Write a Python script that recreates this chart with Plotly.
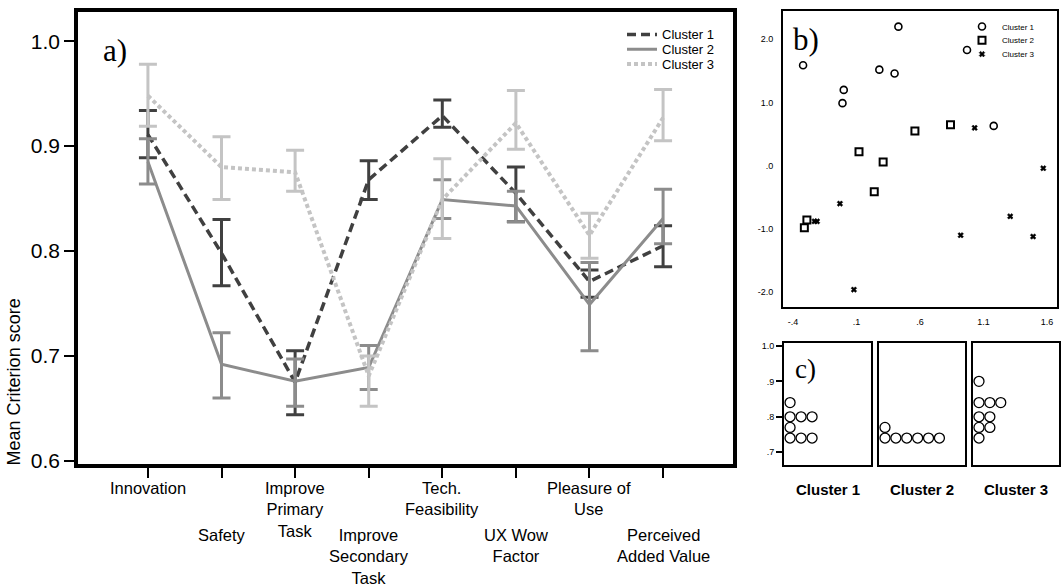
import plotly.graph_objects as go

W, H = 1061, 587

# ---------------- data ----------------
categories = ["Innovation", "Safety", "Improve<br>Primary<br>Task", "Improve<br>Secondary<br>Task",
              "Tech.<br>Feasibility", "UX Wow<br>Factor", "Pleasure of<br>Use", "Perceived<br>Added Value"]
cluster_names = ["Cluster 1", "Cluster 2", "Cluster 3"]

c1_mean = [0.911, 0.798, 0.675, 0.868, 0.929, 0.855, 0.771, 0.805]
c1_low = [0.889, 0.767, 0.644, 0.849, 0.918, 0.828, 0.756, 0.785]
c1_high = [0.934, 0.830, 0.705, 0.886, 0.944, 0.880, 0.782, 0.824]

c2_mean = [0.885, 0.692, 0.676, 0.689, 0.849, 0.843, 0.749, 0.831]
c2_low = [0.864, 0.660, 0.652, 0.668, 0.831, 0.828, 0.705, 0.807]
c2_high = [0.907, 0.722, 0.697, 0.710, 0.868, 0.857, 0.789, 0.859]

c3_mean = [0.948, 0.880, 0.875, 0.681, 0.849, 0.922, 0.815, 0.927]
c3_low = [0.919, 0.849, 0.857, 0.652, 0.812, 0.897, 0.793, 0.905]
c3_high = [0.978, 0.909, 0.896, 0.700, 0.888, 0.953, 0.836, 0.954]

main_yticks = [0.6, 0.7, 0.8, 0.9, 1.0]
main_yticktext = ["0.6", "0.7", "0.8", "0.9", "1.0"]

# panel b scatter
b1_x = [-0.32, 0.00, -0.01, 0.28, 0.40, 0.43, 0.97, 1.18]
b1_y = [1.59, 1.20, 0.99, 1.52, 1.46, 2.20, 1.83, 0.63]
b2_x = [-0.31, -0.29, 0.12, 0.31, 0.24, 0.56, 0.84]
b2_y = [-0.98, -0.86, 0.22, 0.06, -0.41, 0.55, 0.65]
b3_x = [-0.23, -0.21, -0.03, 0.08, 0.92, 1.03, 1.31, 1.49, 1.57]
b3_y = [-0.88, -0.88, -0.60, -1.96, -1.10, 0.60, -0.80, -1.12, -0.04]
b_xticks = [-0.4, 0.1, 0.6, 1.1, 1.6]
b_xticktext = ["-.4", ".1", ".6", "1.1", "1.6"]
b_yticks = [2.0, 1.0, 0.0, -1.0, -2.0]
b_yticktext = ["2.0", "1.0", ".0", "-1.0", "-2.0"]

# panel c dot plots
c_dots1 = [0.84, 0.80, 0.80, 0.80, 0.77, 0.74, 0.74, 0.74]
c_dots2 = [0.77, 0.74, 0.74, 0.74, 0.74, 0.74, 0.74]
c_dots3 = [0.90, 0.84, 0.84, 0.84, 0.80, 0.80, 0.77, 0.77, 0.74]
c_yticks = [0.7, 0.8, 0.9, 1.0]
c_yticktext = [".7", ".8", ".9", "1.0"]

# ---------------- styles ----------------
FONT = "Liberation Sans, Arial, Helvetica, sans-serif"
SERIF = "Liberation Serif, Times New Roman, serif"
colors = ["#404040", "#8c8c8c", "#c4c4c4"]
dashes = ["9px,5px", "solid", "4px,3px"]
widths = [3.5, 3, 4]


def px_x(p):
    return p / W


def px_y(p):
    return 1 - p / H


fig = go.Figure()

main_legends = ["legend", "legend3", "legend4"]
b_legends = ["legend2", "legend5", "legend6"]

xs = list(range(len(categories)))
for name, mean, low, high, col, dash, lw, lg in zip(
        cluster_names, [c1_mean, c2_mean, c3_mean], [c1_low, c2_low, c3_low],
        [c1_high, c2_high, c3_high], colors, dashes, widths, main_legends):
    fig.add_trace(go.Scatter(
        x=xs, y=mean, mode="lines", name=name,
        line=dict(color=col, width=lw, dash=dash),
        error_y=dict(type="data", symmetric=False,
                     array=[h - m for h, m in zip(high, mean)],
                     arrayminus=[m - l for m, l in zip(mean, low)],
                     color=col, thickness=3, width=9),
        xaxis="x", yaxis="y", legend=lg, hoverinfo="skip"))

# panel b
for name, bx, by, sym, size, lwid, lg in zip(
        cluster_names, [b1_x, b2_x, b3_x], [b1_y, b2_y, b3_y],
        ["circle-open", "square-open", "x"], [7, 7, 5], [1.6, 2, 0.5], b_legends):
    fig.add_trace(go.Scatter(x=bx, y=by, mode="markers", name=name,
                             marker=dict(symbol=sym, size=size, color="black",
                                         line=dict(width=lwid, color="black")),
                             xaxis="x2", yaxis="y2", legend=lg, hoverinfo="skip"))

# panel c dot plots
for k, dots in enumerate([c_dots1, c_dots2, c_dots3]):
    seen = {}
    idx = []
    for v in dots:
        idx.append(seen.get(v, 0))
        seen[v] = seen.get(v, 0) + 1
    fig.add_trace(go.Scatter(
        x=idx, y=dots, mode="markers", showlegend=False,
        marker=dict(symbol="circle", size=10, color="white", line=dict(color="black", width=1.3)),
        xaxis="x%d" % (k + 3), yaxis="y%d" % (k + 3), hoverinfo="skip"))

# ---------------- layout ----------------
main_dom_x = [px_x(78), px_x(733)]
main_dom_y = [px_y(470), px_y(10)]
b_dom_x = [px_x(783), px_x(1057)]
b_dom_y = [px_y(310), px_y(9)]
c_dom_y = [px_y(471), px_y(347)]
c_dom_x = [[px_x(784), px_x(871)], [px_x(879), px_x(965)], [px_x(973), px_x(1059)]]

BLACK_TICK = dict(color="black", family=FONT)

layout = dict(
    width=W, height=H, margin=dict(l=0, r=0, t=0, b=0),
    paper_bgcolor="white", plot_bgcolor="white",
    font=dict(family=FONT, color="black"),
    showlegend=True,
    xaxis=dict(domain=main_dom_x, range=[-0.95, 7.95], tickvals=xs, showticklabels=False,
               ticks="outside", ticklen=10, tickwidth=2, tickcolor="black",
               showline=True, linecolor="black", linewidth=3.5, mirror=True,
               showgrid=False, zeroline=False, anchor="y"),
    yaxis=dict(domain=main_dom_y, range=[0.597, 1.028], tickvals=main_yticks, ticktext=main_yticktext,
               ticks="outside", ticklen=10, tickwidth=2, tickcolor="black",
               tickfont=dict(size=21, **BLACK_TICK),
               showline=True, linecolor="black", linewidth=3.5, mirror=True,
               showgrid=False, zeroline=False, anchor="x"),
    xaxis2=dict(domain=b_dom_x, range=[-0.478, 1.678], tickvals=b_xticks, ticktext=b_xticktext,
                ticks="", tickfont=dict(size=9, **BLACK_TICK), ticklabelstandoff=5,
                showline=True, linecolor="black", linewidth=2, mirror=True,
                showgrid=False, zeroline=False, anchor="y2"),
    yaxis2=dict(domain=b_dom_y, range=[-2.23, 2.45], tickvals=b_yticks, ticktext=b_yticktext,
                ticks="", tickfont=dict(size=9, **BLACK_TICK), ticklabelstandoff=6,
                showline=True, linecolor="black", linewidth=2, mirror=True,
                showgrid=False, zeroline=False, anchor="x2"),
)

# one legend per entry so rows can be spaced like the original
for lg, ypix in zip(main_legends, [33, 48, 63]):
    layout[lg] = dict(x=px_x(622), y=px_y(ypix), xanchor="left", yanchor="middle",
                      font=dict(size=13, family=FONT, color="black"), bgcolor="rgba(0,0,0,0)",
                      borderwidth=0, itemwidth=30)
for lg, ypix in zip(b_legends, [25, 39, 53]):
    layout[lg] = dict(x=px_x(962), y=px_y(ypix), xanchor="left", yanchor="middle",
                      font=dict(size=8, family=FONT, color="black"), bgcolor="rgba(0,0,0,0)",
                      borderwidth=0, itemwidth=30)

for k in range(3):
    ax = "xaxis%d" % (k + 3)
    ay = "yaxis%d" % (k + 3)
    layout[ax] = dict(domain=c_dom_x[k], range=[-0.55, 7.35], showticklabels=False, ticks="",
                      showline=True, linecolor="black", linewidth=1.8, mirror=True,
                      showgrid=False, zeroline=False, anchor="y%d" % (k + 3))
    layout[ay] = dict(domain=c_dom_y, range=[0.664, 1.008], tickvals=c_yticks, ticktext=c_yticktext,
                      showticklabels=(k == 0), ticks="outside" if k == 0 else "", ticklen=6,
                      tickwidth=1.5, tickcolor="black", tickfont=dict(size=9, **BLACK_TICK),
                      showline=True, linecolor="black", linewidth=1.8, mirror=True,
                      showgrid=False, zeroline=False, anchor="x%d" % (k + 3))

fig.update_layout(**layout)

annotations = []
# category labels, staggered in two rows
for i, lab in enumerate(categories):
    annotations.append(dict(x=i, xref="x", y=px_y(483) if i % 2 == 0 else px_y(531), yref="paper",
                            text=lab, showarrow=False, xanchor="center", yanchor="top",
                            font=dict(size=16.5, family=FONT)))
annotations.append(dict(x=px_x(14), y=px_y(387), xref="paper", yref="paper", text="Mean Criterion score",
                        textangle=-90, xanchor="center", yanchor="middle", showarrow=False,
                        font=dict(size=18, family=FONT)))
annotations.append(dict(x=px_x(101), y=px_y(30), xref="paper", yref="paper", text="a)",
                        xanchor="left", yanchor="top", showarrow=False, font=dict(size=31, family=SERIF)))
annotations.append(dict(x=px_x(791), y=px_y(18), xref="paper", yref="paper", text="b)",
                        xanchor="left", yanchor="top", showarrow=False, font=dict(size=31, family=SERIF)))
annotations.append(dict(x=px_x(793), y=px_y(356), xref="paper", yref="paper", text="c)",
                        xanchor="left", yanchor="top", showarrow=False, font=dict(size=27, family=SERIF)))
for k, name in enumerate(cluster_names):
    annotations.append(dict(x=0.5, xref="x%d domain" % (k + 3), y=px_y(496), yref="paper",
                            xanchor="center", yanchor="middle",
                            text="<b>%s</b>" % name, showarrow=False,
                            font=dict(size=15, family=FONT)))
fig.update_layout(annotations=annotations)

fig.write_html("out.html", config={"displayModeBar": False},
               post_script="document.body.style.margin='0px';document.body.style.overflow='hidden';")
